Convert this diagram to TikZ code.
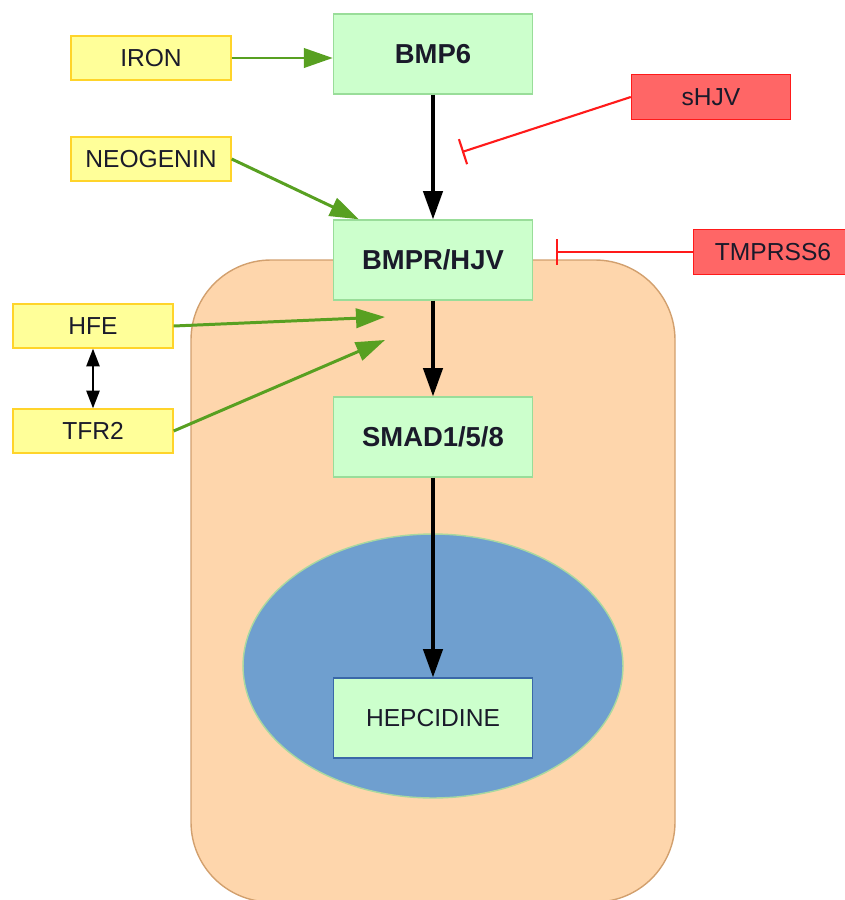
\documentclass[tikz,border=0pt]{standalone}
\usepackage{fontspec}
\setmainfont{Liberation Sans}
\usetikzlibrary{arrows.meta, positioning, calc}
\definecolor{cellfill}{HTML}{FED6AC}
\definecolor{celldraw}{HTML}{D2A06E}
\definecolor{nucfill}{HTML}{6F9FCF}
\definecolor{nucdraw}{HTML}{A8D8A0}
\definecolor{yfill}{HTML}{FFFF99}
\definecolor{ydraw}{HTML}{FFD42A}
\definecolor{gfill}{HTML}{CCFFCC}
\definecolor{gdraw}{HTML}{99DD99}
\definecolor{rfill}{HTML}{FF6666}
\definecolor{rdraw}{HTML}{FF1A1A}
\definecolor{actgreen}{HTML}{58A021}
\definecolor{hepdraw}{HTML}{3A68A8}
\definecolor{txt}{HTML}{1A1A2A}

\begin{document}
\begin{tikzpicture}[x=0.02cm, y=-0.02cm,
    box/.style={rectangle, draw, line width=0.8pt, inner sep=0pt, text=txt,
        font=\fontsize{14}{16}\selectfont},
    factor/.style={box, fill=yfill, draw=ydraw, minimum width=3.2cm, minimum height=0.88cm},
    inhib/.style={box, fill=rfill, draw=rdraw, minimum width=3.18cm, minimum height=0.9cm},
    path/.style={box, fill=gfill, draw=gdraw, minimum width=3.98cm, minimum height=1.6cm,
        font=\fontsize{15.6}{18}\selectfont\bfseries},
    act/.style={-{Triangle[length=16.5pt, width=11pt]}, line width=1.7pt, draw=actgreen, fill=actgreen},
    flow/.style={-{Triangle[length=16pt, width=11pt]}, line width=1.8pt},
    block/.style={-{Bar[width=15pt, line width=1.2pt]}, line width=1.2pt, draw=rdraw}
]
    \useasboundingbox (0,0) rectangle (845,900);
    \clip (0,0) rectangle (845,900);

    % cell and nucleus
    \draw[fill=cellfill, draw=celldraw, line width=0.8pt, rounded corners=1.6cm]
        (191,260) rectangle (675,902);
    \draw[fill=nucfill, draw=nucdraw, line width=0.8pt] (433,666) ellipse [x radius=3.8cm, y radius=2.64cm];

    % pathway
    \node[path] (bmp6) at (433,54) {BMP6};
    \node[path] (bmpr) at (433,260) {BMPR/HJV};
    \node[path] (smad) at (433,437) {SMAD1/5/8};
    \node[path, draw=hepdraw, font=\fontsize{14}{16}\selectfont] (hep) at (433,718) {HEPCIDINE};

    % regulators
    \node[factor] (iron) at (151,58) {IRON};
    \node[factor] (neogenin) at (151,159) {NEOGENIN};
    \node[factor] (hfe) at (93,326) {HFE};
    \node[factor] (tfr2) at (93,431) {TFR2};
    \node[inhib] (shjv) at (711,97) {sHJV};
    \node[inhib] (tmprss) at (773,252) {TMPRSS6};

    \coordinate (shjvend) at (462,152);
    \coordinate (tmprssend) at (556,252);
    \coordinate (hfeend) at (385,317);
    \coordinate (tfr2end) at (385,340);

    \draw[flow] (bmp6) -- (bmpr);
    \draw[flow] (bmpr) -- (smad);
    \draw[flow] (smad) -- (hep);

    \draw[act] (iron.east) -- (iron.east -| bmp6.west);
    \draw[act] (neogenin.east) -- ($(bmpr.north west)!0.13!(bmpr.north east)$);
    \draw[act] (hfe.east) -- (hfeend);
    \draw[act] (tfr2.east) -- (tfr2end);
    \draw[{Triangle[length=10pt, width=7.5pt]}-{Triangle[length=10pt, width=7.5pt]}, line width=1pt]
        (hfe) -- (tfr2);

    \draw[block] (shjv.west) -- (shjvend);
    \draw[block] (tmprss.west) -- (tmprssend);
\end{tikzpicture}
\end{document}
